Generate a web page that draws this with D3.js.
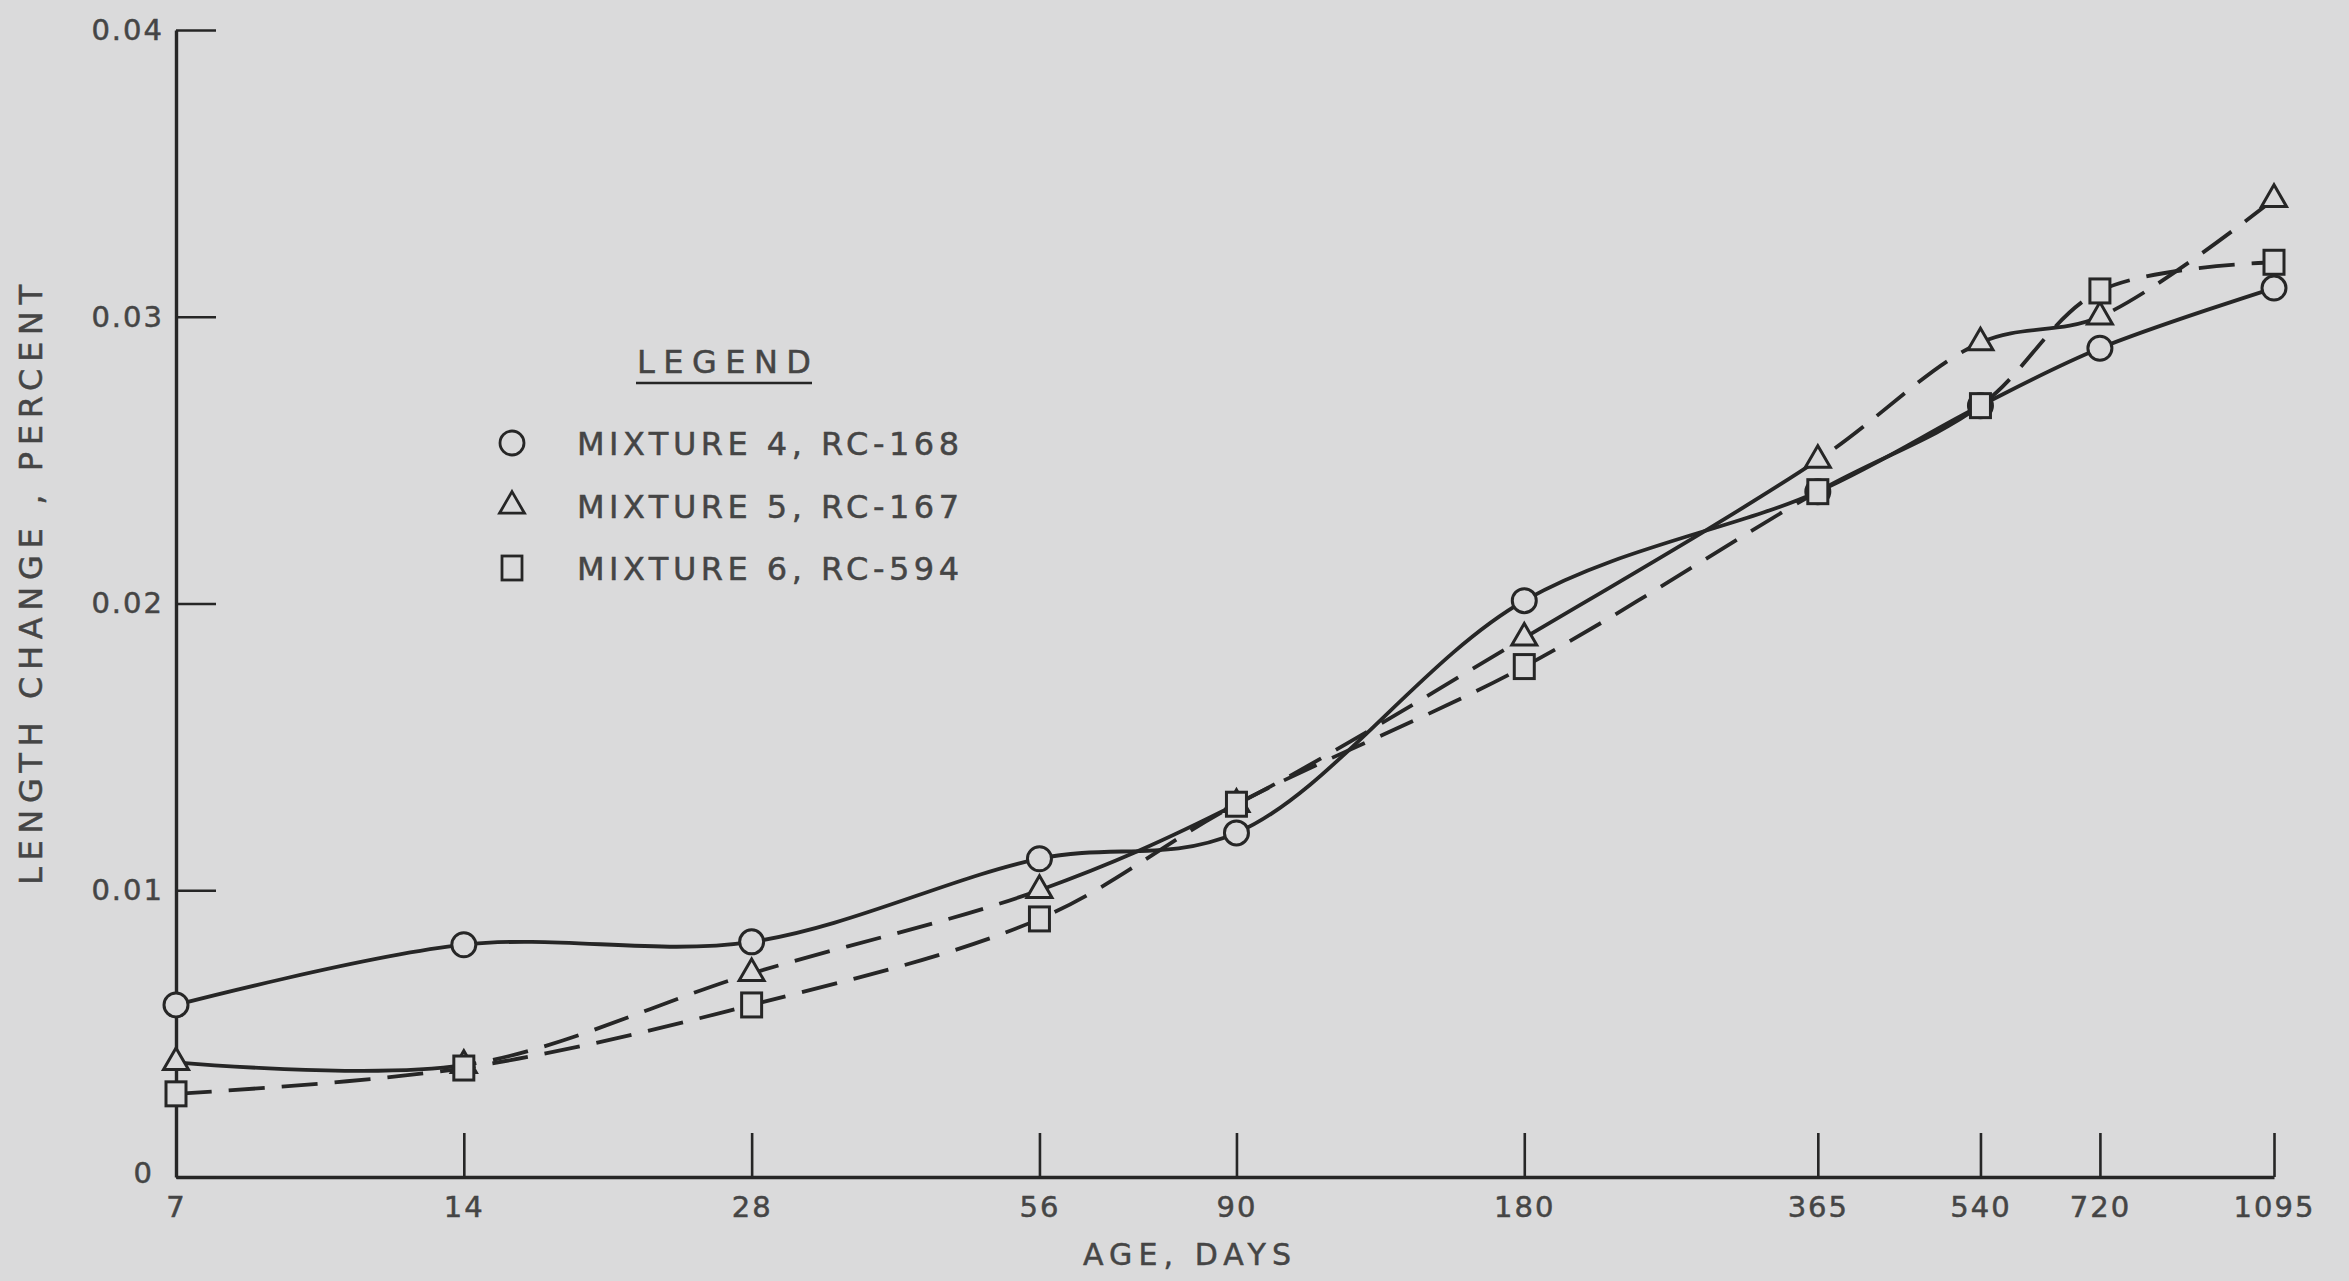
<!DOCTYPE html>
<html>
<head>
<meta charset="utf-8">
<script src="https://cdn.jsdelivr.net/npm/d3@7"></script>
<style>
  html, body { margin: 0; padding: 0; background: #dadadb; }
  svg { display: block; }
  text { font-family: "DejaVu Sans", "Liberation Sans", sans-serif; fill: #454545; stroke: #454545; stroke-width: 0.5px; }
</style>
</head>
<body>
<svg id="chart" width="2349" height="1281"></svg>
<script>
// Age at test, days (log-spaced axis)
const ages = [7, 14, 28, 56, 90, 180, 365, 540, 720, 1095];
const ageTickLabels = ["7", "14", "28", "56", "90", "180", "365", "540", "720", "1095"];

// Length change, percent
const mixture4 = [0.0060, 0.0081, 0.0082, 0.0111, 0.0120, 0.0201, 0.0239, 0.0269, 0.0289, 0.0310];
const mixture5 = [0.0040, 0.0039, 0.0071, 0.0100, 0.0130, 0.0188, 0.0250, 0.0291, 0.0300, 0.0341];
const mixture6 = [0.0029, 0.0038, 0.0060, 0.0090, 0.0130, 0.0178, 0.0239, 0.0269, 0.0309, 0.0319];

const yTickValues = [0, 0.01, 0.02, 0.03, 0.04];
const yTickLabels = ["0", "0.01", "0.02", "0.03", "0.04"];

const seriesNames = ["MIXTURE 4, RC-168", "MIXTURE 5, RC-167", "MIXTURE 6, RC-594"];

// Line style of each span between consecutive ages
const mixture4Spans = ["solid", "solid", "solid", "solid", "solid", "solid", "solid", "solid", "solid"];
const mixture5Spans = ["solid", "dashed", "dashed", "solid", "dashed", "solid", "dashed", "solid", "dashed"];
const mixture6Spans = ["dashed", "dashed", "dashed", "dashed", "dashed", "dashed", "solid", "dashed", "dashed"];

const series = [
  { name: seriesNames[0], values: mixture4, spans: mixture4Spans, marker: "circle" },
  { name: seriesNames[1], values: mixture5, spans: mixture5Spans, marker: "triangle" },
  { name: seriesNames[2], values: mixture6, spans: mixture6Spans, marker: "square" }
];

const ink = "#262626";
const paper = "#dadadb";
const textInk = "#454545";

const svg = d3.select("#chart");

const x = d3.scaleLog().domain([7, 1095]).range([176, 2274]);
const y = d3.scaleLinear().domain([0, 0.04]).range([1177, 30]);

// Axes
const xAxis = d3.axisBottom(x)
  .tickValues(ages)
  .tickFormat((d, i) => ageTickLabels[i])
  .tickSizeInner(-44)
  .tickSizeOuter(0)
  .tickPadding(19);

const yAxis = d3.axisLeft(y)
  .tickValues(yTickValues)
  .tickFormat((d, i) => yTickLabels[i])
  .tickSizeInner(-40)
  .tickSizeOuter(0)
  .tickPadding(12);

const gx = svg.append("g").attr("transform", `translate(0,${y(0)})`).call(xAxis);
const gy = svg.append("g").attr("transform", `translate(${x(7)},0)`).call(yAxis);

[gx, gy].forEach(g => {
  g.select(".domain").attr("stroke", ink).attr("stroke-width", 3.4);
  g.selectAll(".tick line").attr("stroke", ink).attr("stroke-width", 2.6);
  g.selectAll(".tick text")
    .attr("font-size", 29)
    .attr("font-family", "DejaVu Sans, Liberation Sans, sans-serif")
    .attr("fill", textInk)
    .attr("letter-spacing", 2);
});
// the zero label sits a little lower and further out
gy.selectAll(".tick text").filter(d => d === 0).attr("x", -22).attr("dy", "0.2em");

// Axis titles
svg.append("text")
  .attr("transform", "translate(42,585) rotate(-90)")
  .attr("text-anchor", "middle")
  .attr("font-size", 32)
  .attr("textLength", 600)
  .attr("lengthAdjust", "spacing")
  .text("LENGTH CHANGE , PERCENT");

svg.append("text")
  .attr("x", 1187)
  .attr("y", 1265)
  .attr("text-anchor", "middle")
  .attr("font-size", 30)
  .attr("textLength", 208)
  .attr("lengthAdjust", "spacing")
  .text("AGE, DAYS");

// Curves, one clipped copy per span so each span keeps its own stroke style
const defs = svg.append("defs");
for (let i = 0; i < ages.length - 1; i++) {
  const x0 = i === 0 ? 0 : x(ages[i]);
  const x1 = i === ages.length - 2 ? 2349 : x(ages[i + 1]);
  defs.append("clipPath").attr("id", `span-${i}`)
    .append("rect").attr("x", x0).attr("y", 0).attr("width", x1 - x0).attr("height", 1281);
}

const line = d3.line()
  .x(d => x(d[0]))
  .y(d => y(d[1]))
  .curve(d3.curveCatmullRom.alpha(0.5));

const linesG = svg.append("g");
series.forEach(s => {
  const pts = ages.map((a, i) => [a, s.values[i]]);
  const d = line(pts);
  s.spans.forEach((style, i) => {
    linesG.append("path")
      .attr("d", d)
      .attr("clip-path", `url(#span-${i})`)
      .attr("fill", "none")
      .attr("stroke", ink)
      .attr("stroke-width", 3.8)
      .attr("stroke-linecap", "butt")
      .attr("stroke-dasharray", style === "dashed" ? "36,17" : null);
  });
});

// Markers
function drawMarker(g, type, cx, cy) {
  if (type === "circle") {
    g.append("circle").attr("cx", cx).attr("cy", cy).attr("r", 12);
  } else if (type === "triangle") {
    g.append("path")
      .attr("transform", `translate(${cx},${cy})`)
      .attr("d", d3.symbol(d3.symbolTriangle).size(270)());
  } else {
    g.append("rect").attr("x", cx - 10).attr("y", cy - 12).attr("width", 20).attr("height", 24);
  }
}

const markersG = svg.append("g")
  .attr("fill", paper)
  .attr("stroke", ink)
  .attr("stroke-width", 3);

series.forEach(s => {
  ages.forEach((a, i) => drawMarker(markersG, s.marker, x(a), y(s.values[i])));
});

// Legend
const legend = svg.append("g");
legend.append("text")
  .attr("x", 637).attr("y", 373)
  .attr("font-size", 32)
  .attr("textLength", 174)
  .attr("lengthAdjust", "spacing")
  .text("LEGEND");
legend.append("line")
  .attr("x1", 636).attr("x2", 812).attr("y1", 383).attr("y2", 383)
  .attr("stroke", ink).attr("stroke-width", 2.6);

const legendRows = [443, 506, 568];
const legendMarks = legend.append("g")
  .attr("fill", paper)
  .attr("stroke", ink)
  .attr("stroke-width", 2.8);
series.forEach((s, i) => {
  drawMarker(legendMarks, s.marker, 512, legendRows[i]);
  legend.append("text")
    .attr("x", 577).attr("y", legendRows[i] + 12)
    .attr("font-size", 32)
    .attr("textLength", 382)
    .attr("lengthAdjust", "spacing")
    .text(s.name);
});
</script>
</body>
</html>
